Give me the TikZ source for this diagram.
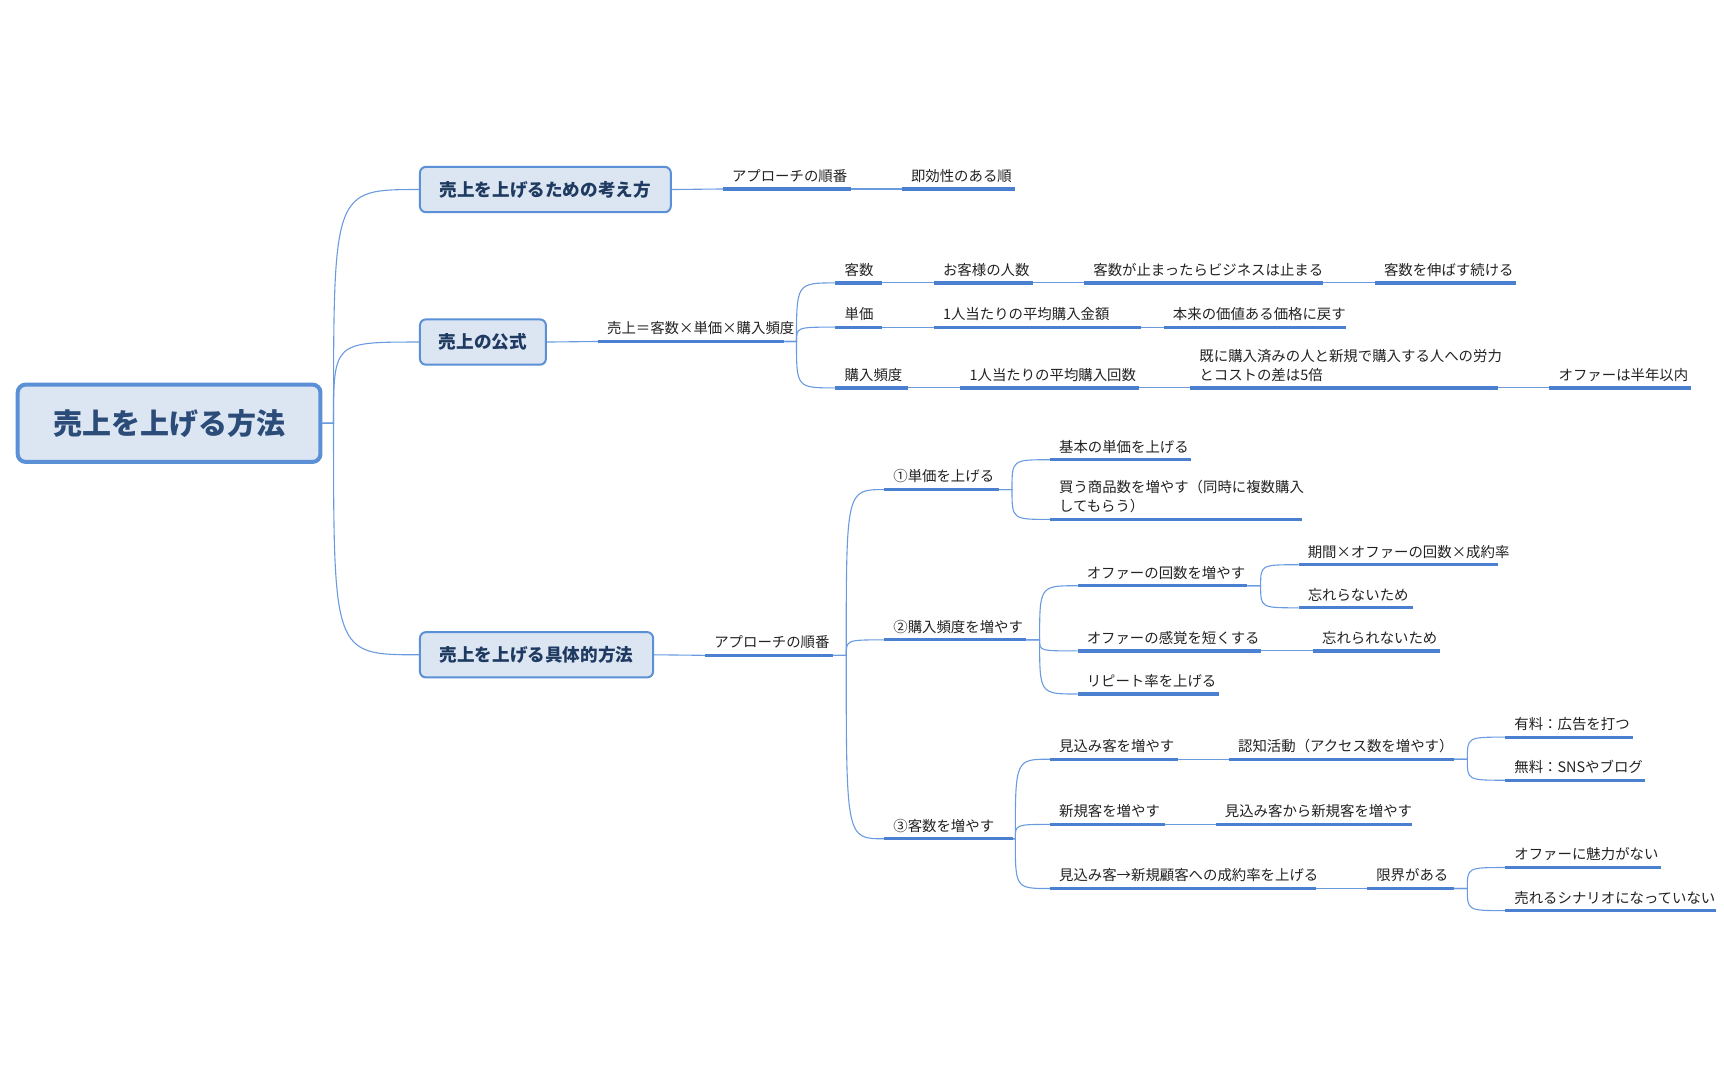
\documentclass[tikz,border=0pt]{standalone}
\usepackage{fontspec}
\setmainfont{Noto Sans CJK JP}
\definecolor{ul}{HTML}{4A80CF}
\definecolor{cn}{HTML}{6A9BE0}
\definecolor{bf}{HTML}{DCE6F3}
\definecolor{bd}{HTML}{5B8FD6}
\definecolor{bt}{HTML}{1F3A60}
\definecolor{tx}{HTML}{222222}
\tikzset{
 leaf/.style={anchor=south west,inner xsep=4.42pt,inner ysep=3pt,align=left,text=tx,font=\fontsize{7.2}{9.6}\selectfont},
 uline/.style={draw=ul,line width=1.6pt},
 conn/.style={draw=cn,line width=0.55pt},
 box/.style={draw=bd,fill=bf,rounded corners=3pt,line width=1pt,text=bt,font=\fontsize{8.8}{10}\selectfont\bfseries,inner sep=0pt},
 root/.style={draw=bd,fill=bf,rounded corners=4pt,line width=2pt,text=bt!80!bd,font=\fontsize{14.5}{16}\selectfont\bfseries,inner sep=0pt}
}
\newcommand\leaf[5]{\pgfmathsetmacro\tw{(#3-#2-16)*0.5525}\node[leaf,text width=\tw pt] (#1) at (#2,#4) {#5};\draw[uline] (#1.south west) -- (#1.south east);}
\newcommand\conn[3][11]{\draw[conn] (#2) -- ++(#1,0) coordinate (f) .. controls (f |- #3.south west) .. (#3.south west);}
\begin{document}
\begin{tikzpicture}[x=0.5525pt,y=-0.5525pt]
\useasboundingbox (0,0) rectangle (1560,965.5);
\node[root,minimum width=274*0.5525pt,minimum height=70*0.5525pt] (r) at (153,383) {売上を上げる方法};
\node[box,minimum width=227*0.5525pt,minimum height=41*0.5525pt] (b1) at (493.5,171.5) {売上を上げるための考え方};
\node[box,minimum width=114*0.5525pt,minimum height=41*0.5525pt] (b2) at (437,309.5) {売上の公式};
\node[box,minimum width=211*0.5525pt,minimum height=41*0.5525pt] (b3) at (485.5,592.5) {売上を上げる具体的方法};
\foreach \b in {b1,b2,b3}{\draw[conn] (r.east) -- ++(10,0) coordinate (f) .. controls (f |- \b.west) .. (\b.west);}
% box1
\leaf{a1}{654}{769}{171}{アプローチの順番}
\leaf{a2}{816}{918}{171}{即効性のある順}
\draw[conn] (b1.east) -- (a1.south west);
\draw[conn] (a1.south east) -- (a2.south west);
% box2
\leaf{f0}{541}{709}{309}{売上＝客数×単価×購入頻度}
\draw[conn] (b2.east) -- (f0.south west);
\leaf{k1}{756}{797}{256}{客数}
\leaf{k2}{845}{934}{256}{お客様の人数}
\leaf{k3}{981}{1196}{256}{客数が止まったらビジネスは止まる}
\leaf{k4}{1244}{1371}{256}{客数を伸ばす続ける}
\leaf{t1}{756}{797}{296}{単価}
\leaf{t2}{845}{1032}{296}{1人当たりの平均購入金額}
\leaf{t3}{1053}{1217}{296}{本来の価値ある価格に戻す}
\leaf{h1}{756}{821}{351}{購入頻度}
\leaf{h2}{869}{1030}{351}{1人当たりの平均購入回数}
\leaf{h3}{1077}{1355}{351}{既に購入済みの人と新規で購入する人への労力\\とコストの差は5倍}
\leaf{h4}{1402}{1529}{351}{オファーは半年以内}
\foreach \c in {k1,t1,h1}{\conn{f0.south east}{\c}}
\draw[conn] (k1.south east) -- (k2.south west) (k2.south east) -- (k3.south west) (k3.south east) -- (k4.south west);
\draw[conn] (t1.south east) -- (t2.south west) (t2.south east) -- (t3.south west);
\draw[conn] (h1.south east) -- (h2.south west) (h2.south east) -- (h3.south west) (h3.south east) -- (h4.south west);
% box3
\leaf{p0}{638}{753}{593}{アプローチの順番}
\draw[conn] (b3.east) -- (p0.south west);
\leaf{u1}{800}{903}{443}{①単価を上げる}
\leaf{u2}{800}{928}{579}{②購入頻度を増やす}
\leaf{u3}{800}{916}{759}{③客数を増やす}
\foreach \c in {u1,u2,u3}{\conn[12]{p0.south east}{\c}}
\leaf{v1}{950}{1077}{416}{基本の単価を上げる}
\leaf{v2}{950}{1177}{470}{買う商品数を増やす（同時に複数購入\\してもらう）}
\foreach \c in {v1,v2}{\conn[12]{u1.south east}{\c}}
\leaf{w1}{975}{1128}{530}{オファーの回数を増やす}
\leaf{w2}{975}{1140}{589}{オファーの感覚を短くする}
\leaf{w3}{975}{1102}{628}{リピート率を上げる}
\foreach \c in {w1,w2,w3}{\conn[12]{u2.south east}{\c}}
\leaf{w11}{1175}{1355}{511}{期間×オファーの回数×成約率}
\leaf{w12}{1175}{1278}{550}{忘れらないため}
\foreach \c in {w11,w12}{\conn[12]{w1.south east}{\c}}
\leaf{w21}{1188}{1302}{589}{忘れられないため}
\draw[conn] (w2.south east) -- (w21.south west);
\leaf{x1}{950}{1065}{687}{見込み客を増やす}
\leaf{x2}{950}{1053}{746}{新規客を増やす}
\leaf{x3}{950}{1190}{804}{見込み客→新規顧客への成約率を上げる}
\foreach \c in {x1,x2,x3}{\conn[2]{u3.south east}{\c}}
\leaf{x11}{1112}{1315}{687}{認知活動（アクセス数を増やす）}
\draw[conn] (x1.south east) -- (x11.south west);
\leaf{y1}{1362}{1477}{667}{有料：広告を打つ}
\leaf{y2}{1362}{1488}{706}{無料：SNSやブログ}
\foreach \c in {y1,y2}{\conn[12]{x11.south east}{\c}}
\leaf{x21}{1100}{1277}{746}{見込み客から新規客を増やす}
\draw[conn] (x2.south east) -- (x21.south west);
\leaf{x31}{1237}{1315}{804}{限界がある}
\draw[conn] (x3.south east) -- (x31.south west);
\leaf{z1}{1362}{1502}{785}{オファーに魅力がない}
\leaf{z2}{1362}{1552}{824}{売れるシナリオになっていない}
\foreach \c in {z1,z2}{\conn[12]{x31.south east}{\c}}
\end{tikzpicture}
\end{document}
